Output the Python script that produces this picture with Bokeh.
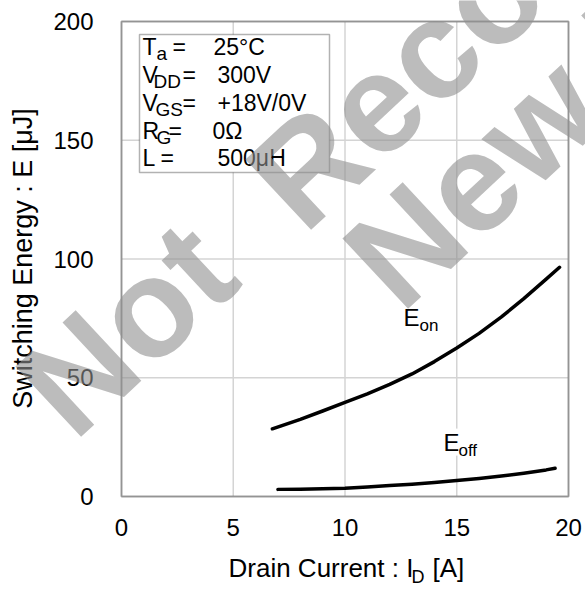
import math
from bokeh.plotting import figure
from bokeh.models import Label, BoxAnnotation, FixedTicker, LinearAxis, Range1d
from bokeh.embed import file_html
from bokeh.resources import INLINE

# ---- data ----
eon_current = [6.75, 8, 9, 10, 11, 12, 13, 14, 15, 16, 17, 18, 19, 19.6]
eon_energy = [28.5, 32.5, 36.0, 39.6, 43.2, 47.2, 51.6, 56.8, 62.5, 68.7, 75.6, 83.3, 91.5, 96.5]
eoff_current = [7.0, 8, 9, 10, 11, 12, 13, 14, 15, 16, 17, 18, 19, 19.4]
eoff_energy = [3.0, 3.1, 3.25, 3.5, 4.0, 4.6, 5.2, 5.9, 6.7, 7.6, 8.6, 9.8, 11.2, 11.9]
x_ticks = [0, 5, 10, 15, 20]
y_ticks = [0, 50, 100, 150, 200]
x_span = (0, 20)
y_span = (0, 200)
cond_names = ["T", "V", "V", "R", "L"]
cond_subs = ["a", "DD", "GS", "G", ""]
cond_values = ["25°C", "300V", "+18V/0V", "0Ω", "500μH"]

FONT = "Liberation Sans"
W, H = 585, 589

# the plotting box occupies pixels x 121..568, y 21..496 of the canvas
FL, FR, FT, FB = 121.0, 568.0, 21.0, 496.0
def X(px):
    return x_span[0] + (px - FL) / (FR - FL) * (x_span[1] - x_span[0])
def Y(py):
    return y_span[0] + (FB - py) / (FB - FT) * (y_span[1] - y_span[0])

p = figure(width=W, height=H,
           x_range=Range1d(X(0), X(W)), y_range=Range1d(Y(H), Y(0)),
           x_axis_location=None, y_axis_location=None,
           output_backend="svg", toolbar_location=None, min_border=0)
p.background_fill_color = "white"
p.border_fill_color = "white"
p.outline_line_color = None
p.grid.visible = False

# axes fixed at the plotting box edges
xax = LinearAxis(fixed_location=y_span[0], bounds=x_span, ticker=FixedTicker(ticks=x_ticks))
yax = LinearAxis(fixed_location=x_span[0], bounds=y_span, ticker=FixedTicker(ticks=y_ticks))
for ax in (xax, yax):
    ax.axis_line_color = None
    ax.major_tick_line_color = None
    ax.minor_tick_line_color = None
    ax.major_tick_out = 0
    ax.major_tick_in = 0
    ax.minor_tick_out = 0
    ax.minor_tick_in = 0
    ax.major_label_text_font = FONT
    ax.major_label_text_color = "black"
    ax.major_label_text_font_size = "24px"
yax.major_label_standoff = 28
xax.major_label_standoff = 22
p.add_layout(xax, "below")
p.add_layout(yax, "left")

# grid lines at the tick positions
p.segment(x0=x_ticks, y0=[y_span[0]] * len(x_ticks), x1=x_ticks, y1=[y_span[1]] * len(x_ticks),
          line_color="#d4d4d4", line_width=1.5, level="underlay")
p.segment(x0=[x_span[0]] * len(y_ticks), y0=y_ticks, x1=[x_span[1]] * len(y_ticks), y1=y_ticks,
          line_color="#d4d4d4", line_width=1.5, level="underlay")

# curves
p.line(eon_current, eon_energy, line_width=3.5, color="black", line_cap="round", line_join="round")
p.line(eoff_current, eoff_energy, line_width=3.5, color="black", line_cap="round", line_join="round")

# plotting box outline
p.add_layout(BoxAnnotation(left=x_span[0], right=x_span[1], bottom=y_span[0], top=y_span[1],
                           fill_alpha=0, line_color="black", line_width=2))

K = 0.35  # measured shift of the drawn baseline, in em

def lab(px, py, text, size, angle=0.0, **kw):
    """Place a text whose baseline starts at screen pixel (px, py)."""
    sx = px - K * size * math.sin(angle)
    sy = py - K * size * math.cos(angle)
    l = Label(x=X(sx), y=Y(sy), text=text, text_font=FONT, text_font_size=f"{size}px",
              text_color=kw.pop("color", "black"), text_baseline="alphabetic",
              text_align=kw.pop("align", "left"), angle=angle, **kw)
    p.add_layout(l)
    return l

# curve labels
lab(403, 325, "E", 24)
lab(419, 331, "on", 17)
lab(443, 450, "E", 24, background_fill_color="white", background_fill_alpha=1.0)
lab(458, 456, "off", 17, background_fill_color="white", background_fill_alpha=1.0)

# conditions box
p.add_layout(BoxAnnotation(left=X(139), right=X(329), top=Y(34), bottom=Y(172),
                           fill_color="white", fill_alpha=1.0,
                           line_color="black", line_width=1.5))
rows_y = [55, 83, 111, 138.5, 166]
sub_x = [156, 153, 155, 156, 0]
eq_x = [172, 182, 182, 168, 160]
val_x = [213, 217, 217, 212, 217]
for i in range(5):
    lab(142, rows_y[i], cond_names[i], 23)
    if cond_subs[i]:
        lab(sub_x[i], rows_y[i] + 5, cond_subs[i], 19)
    lab(eq_x[i], rows_y[i], "=", 23)
    lab(val_x[i], rows_y[i], cond_values[i], 23)

# axis titles
lab(32, 258, "Switching Energy : E [μJ]", 27, angle=math.pi / 2, align="center")
lab(228, 577, "Drain Current : I", 26)
lab(411, 583, "D", 18)
lab(432, 577, "[A]", 26)

# watermark
WA = math.radians(43)
wm = dict(color="#909090", text_alpha=0.6, text_font_style="bold")
lab(74, 443, "Not", 140, angle=WA, **wm)
lab(304, 236, "Recommended for", 140, angle=WA, **wm)
lab(401, 315, "New Designs", 140, angle=WA, **wm)

html = file_html(p, INLINE, title="Switching Energy vs Drain Current")
open("out.html", "w").write(html)
